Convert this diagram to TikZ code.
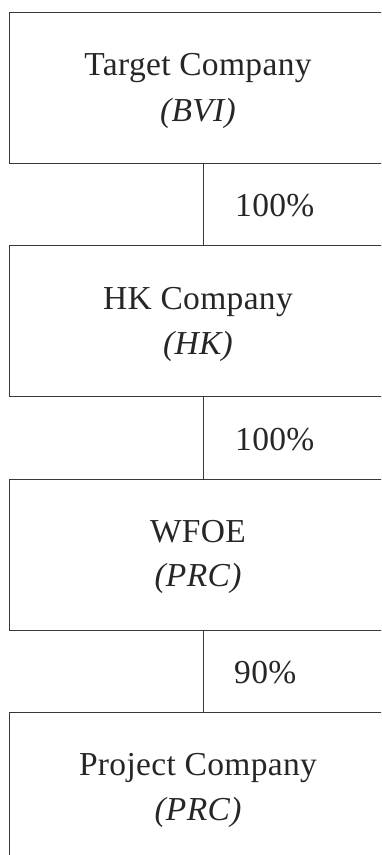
\documentclass[tikz,border=0pt]{standalone}
\usepackage{fontspec}
\setmainfont{Liberation Serif}[LetterSpace=1]
\definecolor{ink}{HTML}{262626}
\definecolor{edge}{HTML}{383838}
\begin{document}
\begin{tikzpicture}[x=1pt,y=-1pt,
  cobox/.style={draw=edge,line width=1pt,minimum width=388pt,minimum height=151pt,inner sep=0pt,anchor=north west},
  cotext/.style={text=ink,font=\fontsize{33.5}{36}\selectfont,anchor=base,inner sep=0pt},
  pct/.style={text=ink,font=\fontsize{33.5}{36}\selectfont,anchor=base west,inner sep=0pt},
  link/.style={draw=edge,line width=1pt}]
\useasboundingbox (0,0) rectangle (381,855);
\clip (0,0) rectangle (381,855);
% boxes
\node[cobox] (t) at (9,12) {};
\node[cobox] (h) at (9,245.3) {};
\node[cobox] (w) at (9,478.7) {};
\node[cobox] (p) at (9,712) {};
% texts
\node[cotext] (t1) at (198,75) {Target Company};
\node[cotext] (t2) at (198,121) {\itshape (BVI)};
\node[cotext] (h1) at (198,309) {HK Company};
\node[cotext] (h2) at (198,354) {\itshape (HK)};
\node[cotext] (w1) at (198,542) {WFOE};
\node[cotext] (w2) at (198,586) {\itshape (PRC)};
\node[cotext] (p1) at (198,775) {Project Company};
\node[cotext] (p2) at (198,820) {\itshape (PRC)};
% connectors
\draw[link] (t.south) -- (h.north);
\draw[link] (h.south) -- (w.north);
\draw[link] (w.south) -- (p.north);
% percentages
\node[pct] (l1) at (235,216) {100\%};
\node[pct] (l2) at (235,450) {100\%};
\node[pct] (l3) at (234,683) {90\%};
\end{tikzpicture}
\end{document}
